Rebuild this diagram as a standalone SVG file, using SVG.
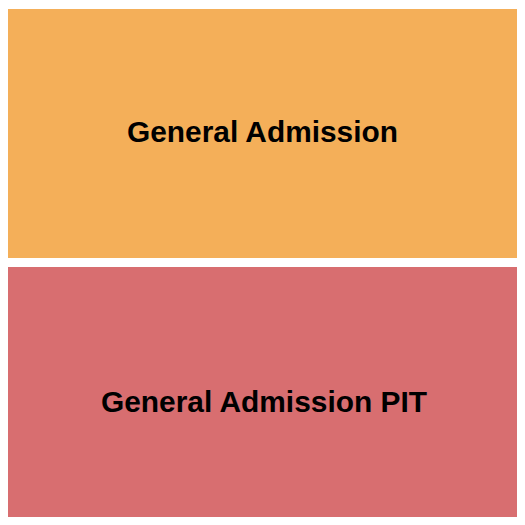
<svg xmlns="http://www.w3.org/2000/svg" width="525" height="525" viewBox="0 0 525 525">
<style>
.lbl{font-family:"Liberation Sans",Arial,sans-serif;font-weight:bold;font-size:29px;fill:#000;text-anchor:middle}
</style>
<rect width="525" height="525" fill="#fff"/>
<g id="ga">
<rect x="8" y="9" width="509" height="249" fill="#F4AF59"/>
<text class="lbl" x="262.5" y="142" textLength="271" lengthAdjust="spacingAndGlyphs">General Admission</text>
</g>
<g id="pit">
<rect x="8" y="267" width="509" height="250" fill="#D86E70"/>
<text class="lbl" x="264" y="412" textLength="326" lengthAdjust="spacingAndGlyphs">General Admission PIT</text>
</g>
<g id="connectors"/>
</svg>
